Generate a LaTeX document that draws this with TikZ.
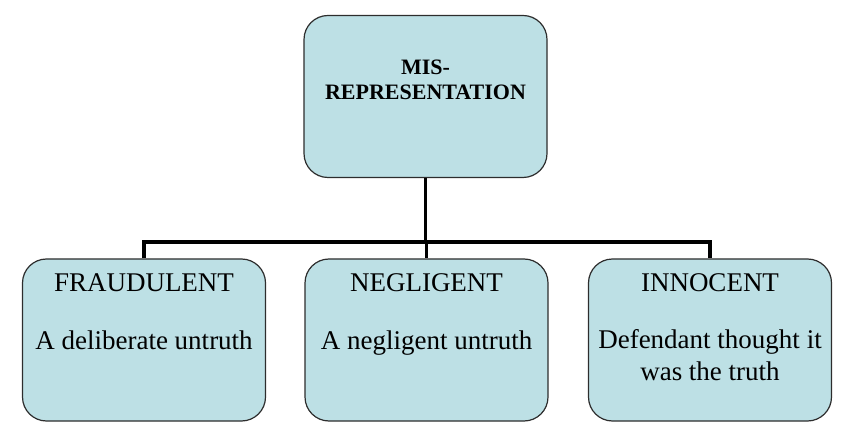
\documentclass[tikz,border=0pt]{standalone}
\usepackage{fontspec}
\setmainfont{Liberation Serif}
\usepackage{tikz}
\usetikzlibrary{calc}

\definecolor{boxblue}{RGB}{189,224,229}
\definecolor{boxline}{RGB}{45,45,45}

\begin{document}
\begin{tikzpicture}[x=1pt,y=1pt]
    \tikzstyle{box}=[draw=boxline, fill=boxblue, line width=1.2pt, rounded corners=24pt, minimum width=243pt, minimum height=162pt, inner sep=0pt]
    \tikzstyle{title}=[anchor=base, font=\fontsize{27}{32}\selectfont]
    \tikzstyle{desc}=[anchor=base, align=center, font=\fontsize{27}{32}\selectfont]
    \tikzstyle{link}=[line width=3.5pt, line join=miter]

    \useasboundingbox (0,0) rectangle (850,439);

    \node[box] (mis) at (425.5, 342.5) {};
    \node[box] (fraud) at (144, 99) {};
    \node[box] (negl) at (426.5, 99) {};
    \node[box] (innoc) at (710, 99) {};

    % base anchor sits on the last line
    \node[anchor=base, align=center, font=\fontsize{22}{25}\selectfont\bfseries] (mistext) at (425.5, 339) {MIS-\\REPRESENTATION};

    \node[title] (fraudT) at ([yshift=-33pt]fraud.north) {FRAUDULENT};
    \node[desc] (fraudD) at ([yshift=-91pt]fraud.north) {A deliberate untruth};
    \node[title] (neglT) at ([yshift=-33pt]negl.north) {NEGLIGENT};
    \node[desc] (neglD) at ([yshift=-91pt]negl.north) {A negligent untruth};
    \node[title] (innocT) at ([yshift=-33pt]innoc.north) {INNOCENT};
    \node[desc] (innocD) at ([yshift=-122pt]innoc.north) {Defendant thought it\\was the truth};

    \coordinate (split) at ($(mis.south) + (0, -64)$);
    \draw[link] (mis.south) -- (split);
    \draw[link] (fraud.north) |- (split) -| (innoc.north);
    \draw[link] (split) -- (split -| negl.north) -- (negl.north);
\end{tikzpicture}
\end{document}
